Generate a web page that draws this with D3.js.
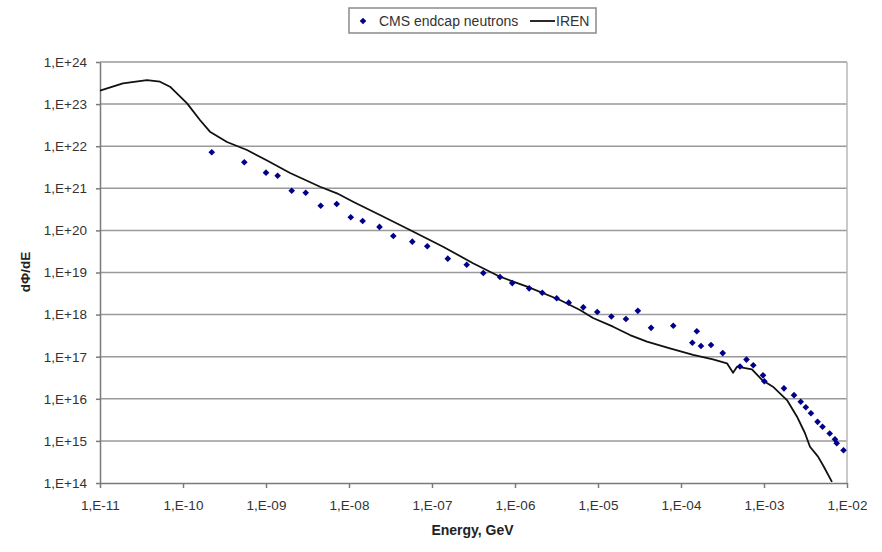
<!DOCTYPE html>
<html>
<head>
<meta charset="utf-8">
<script src="https://cdn.jsdelivr.net/npm/d3@7"></script>
<style>
  body { margin: 0; background: #fff; }
  svg { display: block; font-family: "Liberation Sans", Arial, sans-serif; }
</style>
</head>
<body>
<div id="chart"></div>
<script>
// CMS endcap neutrons (scatter)
const cmsEnergy = [2.22e-10, 5.48e-10, 1.0e-9, 1.38e-9, 2.04e-9, 3.01e-9, 4.56e-9, 7.11e-9,
  1.05e-8, 1.46e-8, 2.33e-8, 3.42e-8, 5.79e-8, 8.77e-8, 1.55e-7, 2.62e-7, 4.15e-7, 6.59e-7,
  9.27e-7, 1.48e-6, 2.13e-6, 3.18e-6, 4.44e-6, 6.65e-6, 9.8e-6, 1.45e-5, 2.17e-5, 3.02e-5,
  4.36e-5, 8.07e-5, 1.55e-4, 1.37e-4, 1.74e-4, 2.30e-4, 3.18e-4, 5.14e-4, 6.15e-4, 7.43e-4,
  9.73e-4, 1.01e-3, 1.74e-3, 2.30e-3, 2.77e-3, 3.19e-3, 3.68e-3, 4.42e-3, 5.07e-3, 6.19e-3,
  7.16e-3, 7.52e-3, 9.08e-3];
const cmsFlux = [7.16e21, 4.15e21, 2.35e21, 1.99e21, 8.77e20, 7.85e20, 3.86e20, 4.24e20,
  2.05e20, 1.67e20, 1.21e20, 7.36e19, 5.40e19, 4.19e19, 2.13e19, 1.53e19, 9.7e18, 7.8e18,
  5.6e18, 4.2e18, 3.3e18, 2.44e18, 1.92e18, 1.49e18, 1.15e18, 9.0e17, 7.85e17, 1.23e18,
  4.85e17, 5.45e17, 4.01e17, 2.15e17, 1.79e17, 1.90e17, 1.22e17, 5.85e16, 8.53e16, 6.25e16,
  3.61e16, 2.61e16, 1.77e16, 1.22e16, 8.5e15, 6.28e15, 4.53e15, 2.84e15, 2.17e15, 1.50e15,
  1.09e15, 8.8e14, 5.98e14];

// IREN (line)
const irenEnergy = [1e-11, 1.89e-11, 3.68e-11, 5.28e-11, 6.97e-11, 1.12e-10, 1.60e-10, 2.11e-10,
  3.39e-10, 5.90e-10, 1.03e-9, 1.95e-9, 4.48e-9, 7.16e-9, 1.12e-8, 2.36e-8, 5.43e-8, 1.36e-7,
  3.12e-7, 6.59e-7, 1.40e-6, 3.48e-6, 6.07e-6, 8.71e-6, 1.52e-5, 2.43e-5, 3.89e-5, 7.36e-5,
  1.40e-4, 2.43e-4, 3.58e-4, 4.24e-4, 4.73e-4, 7.16e-4, 9.46e-4, 1.28e-3, 1.89e-3, 2.50e-3,
  3.12e-3, 3.58e-3, 4.48e-3, 5.28e-3, 6.59e-3];
const irenFlux = [2.08e23, 3.12e23, 3.73e23, 3.40e23, 2.59e23, 1.04e23, 4.19e22, 2.21e22,
  1.26e22, 8.13e21, 4.57e21, 2.31e21, 1.09e21, 7.60e20, 4.81e20, 2.32e20, 1.02e20, 4.10e19,
  1.66e19, 7.94e18, 4.60e18, 2.22e18, 1.29e18, 8.30e17, 5.16e17, 3.27e17, 2.27e17, 1.58e17,
  1.10e17, 8.67e16, 6.97e16, 4.17e16, 5.78e16, 5.02e16, 2.80e16, 1.94e16, 9.35e15, 3.76e15,
  1.52e15, 7.28e14, 4.22e14, 2.40e14, 1.06e14];

const xTickValues = [1e-11, 1e-10, 1e-9, 1e-8, 1e-7, 1e-6, 1e-5, 1e-4, 1e-3, 1e-2];
const yTickValues = [1e14, 1e15, 1e16, 1e17, 1e18, 1e19, 1e20, 1e21, 1e22, 1e23, 1e24];

const width = 882, height = 552;
const plotLeft = 100, plotRight = 847, plotTop = 62, plotBottom = 483;

// Excel style "1,E+24" labels
const expFormat = v => {
  const p = Math.round(Math.log10(v));
  return "1,E" + (p < 0 ? "-" : "+") + String(Math.abs(p)).padStart(2, "0");
};

const svg = d3.select("#chart").append("svg")
  .attr("width", width)
  .attr("height", height);

const x = d3.scaleLog().domain([1e-11, 1e-2]).range([plotLeft, plotRight]);
const y = d3.scaleLog().domain([1e14, 1e24]).range([plotBottom, plotTop]);

// Horizontal grid lines
svg.append("g")
  .selectAll("line")
  .data(yTickValues.slice(1))
  .enter()
  .append("line")
  .attr("x1", plotLeft).attr("x2", plotRight)
  .attr("y1", d => y(d)).attr("y2", d => y(d))
  .attr("stroke", "#9a9a9a")
  .attr("stroke-width", 1.5);

// Right border of plot area
svg.append("line")
  .attr("x1", plotRight).attr("x2", plotRight)
  .attr("y1", plotTop).attr("y2", plotBottom)
  .attr("stroke", "#b8b8b8")
  .attr("stroke-width", 1.5);

// Axes
const xAxis = svg.append("g")
  .attr("transform", `translate(0,${plotBottom})`)
  .call(d3.axisBottom(x).tickValues(xTickValues).tickFormat(expFormat).tickSize(5).tickPadding(12).tickSizeOuter(0));
const yAxis = svg.append("g")
  .attr("transform", `translate(${plotLeft},0)`)
  .call(d3.axisLeft(y).tickValues(yTickValues).tickFormat(expFormat).tickSize(4).tickPadding(9).tickSizeOuter(0));

[xAxis, yAxis].forEach(a => {
  a.select(".domain").attr("stroke", "#7a7a7a").attr("stroke-width", 1.5);
  a.selectAll(".tick line").attr("stroke", "#7a7a7a").attr("stroke-width", 1.5);
  a.selectAll(".tick text")
    .attr("fill", "#333")
    .style("font-size", "13.5px")
    .style("font-family", "'Liberation Sans', Arial, sans-serif");
});

// IREN line
const line = d3.line()
  .x((d, i) => x(irenEnergy[i]))
  .y(d => y(d));
svg.append("path")
  .datum(irenFlux)
  .attr("fill", "none")
  .attr("stroke", "#111")
  .attr("stroke-width", 1.8)
  .attr("stroke-linejoin", "round")
  .attr("d", line);

// CMS points - small square diamonds like Excel markers
const marker = d3.symbol().type(d3.symbolSquare).size(22);
svg.append("g")
  .selectAll("path")
  .data(cmsFlux)
  .enter()
  .append("path")
  .attr("d", marker)
  .attr("transform", (d, i) => `translate(${x(cmsEnergy[i])},${y(d)}) rotate(45)`)
  .attr("fill", "#00008b");

// Axis titles
svg.append("text")
  .attr("x", (plotLeft + plotRight) / 2 - 1)
  .attr("y", 535)
  .attr("text-anchor", "middle")
  .style("font-size", "14px")
  .style("font-weight", "bold")
  .attr("fill", "#222")
  .text("Energy, GeV");

svg.append("text")
  .attr("transform", "translate(30,272) rotate(-90)")
  .attr("text-anchor", "middle")
  .style("font-size", "13.5px")
  .style("font-weight", "bold")
  .attr("fill", "#222")
  .text("dΦ/dE");

// Legend
const legend = svg.append("g");
legend.append("rect")
  .attr("x", 349).attr("y", 8)
  .attr("width", 247).attr("height", 25)
  .attr("fill", "#fff")
  .attr("stroke", "#8a8a8a")
  .attr("stroke-width", 1.5);
legend.append("path")
  .attr("d", marker)
  .attr("transform", "translate(363,21) rotate(45)")
  .attr("fill", "#00008b");
legend.append("text")
  .attr("x", 379).attr("y", 26)
  .style("font-size", "14px")
  .attr("fill", "#333")
  .text("CMS endcap neutrons");
legend.append("line")
  .attr("x1", 530).attr("x2", 555)
  .attr("y1", 21).attr("y2", 21)
  .attr("stroke", "#111")
  .attr("stroke-width", 1.8);
legend.append("text")
  .attr("x", 556).attr("y", 26)
  .style("font-size", "14px")
  .attr("fill", "#333")
  .text("IREN");
</script>
</body>
</html>
